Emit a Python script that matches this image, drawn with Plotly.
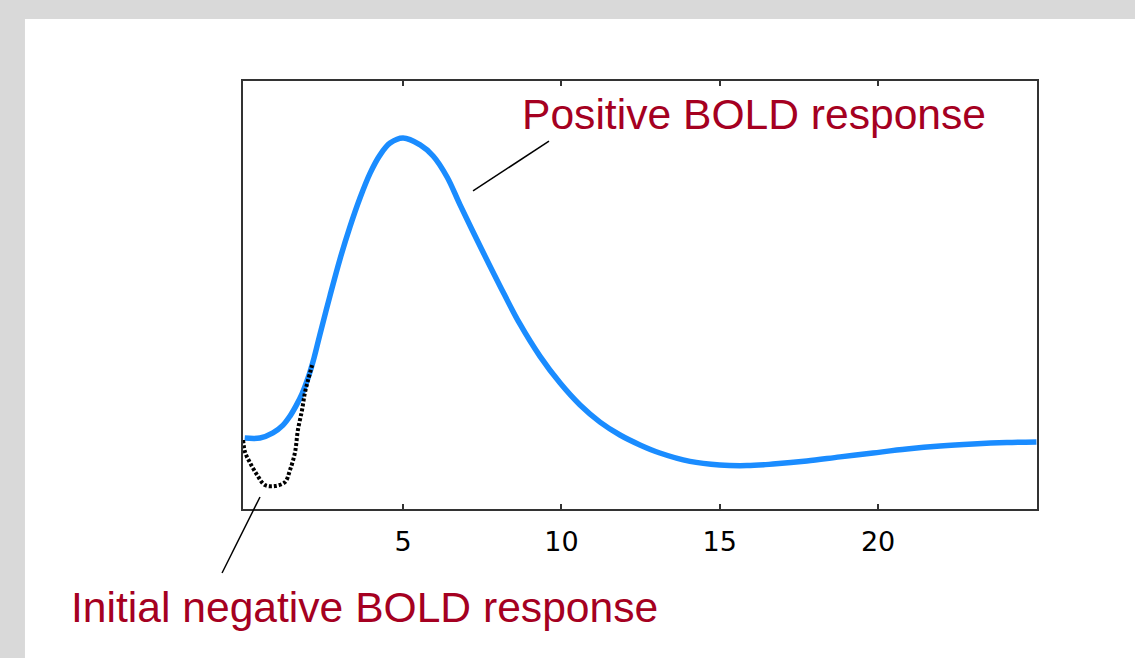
import plotly.graph_objects as go

# Haemodynamic response (arbitrary units), time in seconds
t_positive = [0, 0.48, 0.89, 1.21, 1.43, 1.62, 1.81, 2.0, 2.19, 2.37, 2.69, 3.01, 3.32,
              3.64, 3.96, 4.27, 4.59, 5.0, 5.54, 5.95, 6.39, 6.8, 7.43, 8.06, 8.69,
              9.32, 9.96, 10.59, 11.22, 11.85, 12.48, 13.11, 14.06, 15.0, 15.86, 16.68,
              17.75, 18.8, 19.84, 20.91, 21.96, 23.0, 24.07, 25.0]
y_positive = [0, 0, 0.017, 0.043, 0.073, 0.107, 0.147, 0.2, 0.267, 0.343, 0.473, 0.597,
              0.703, 0.8, 0.883, 0.943, 0.983, 1.0, 0.977, 0.94, 0.87, 0.777, 0.64,
              0.507, 0.38, 0.273, 0.183, 0.11, 0.053, 0.01, -0.023, -0.05, -0.078,
              -0.09, -0.092, -0.087, -0.077, -0.063, -0.05, -0.037, -0.027, -0.02,
              -0.015, -0.013]

t_dip = [-0.05, 0.01, 0.17, 0.39, 0.64, 0.96, 1.27, 1.43, 1.59, 1.68, 1.81, 1.9, 2.0, 2.13]
y_dip = [-0.007, -0.047, -0.083, -0.123, -0.157, -0.16, -0.147, -0.107, -0.047,
         0.027, 0.093, 0.15, 0.193, 0.243]

tick_vals = [5, 10, 15, 20]
tick_text = ["5", "10", "15", "20"]

label_positive = "Positive BOLD response"
label_initial = "Initial negative BOLD response"

RED = "#a50021"
BLUE = "#1a8cff"

fig = go.Figure()
fig.add_trace(go.Scatter(x=t_positive, y=y_positive, mode="lines",
                         line=dict(color=BLUE, width=5.5, shape="spline", smoothing=1.0),
                         hoverinfo="skip", showlegend=False))
fig.add_trace(go.Scatter(x=t_dip, y=y_dip, mode="lines",
                         line=dict(color="black", width=4, dash="3px,2px", shape="spline"),
                         hoverinfo="skip", showlegend=False))

# white slide panel behind the chart
fig.add_shape(type="rect", xref="paper", yref="paper",
              x0=-0.2746, x1=1.2, y0=-0.5, y1=1.1449,
              fillcolor="white", line=dict(width=0), layer="below")

# leader lines
fig.add_shape(type="line", xref="paper", yref="paper",
              x0=0.3854, y0=0.8598, x1=0.2897, y1=0.7430,
              line=dict(color="black", width=1.5))
fig.add_shape(type="line", xref="paper", yref="paper",
              x0=0.0214, y0=0.0280, x1=-0.0264, y1=-0.1495,
              line=dict(color="black", width=1.5))

fig.add_annotation(text=label_positive, xref="paper", yref="paper",
                   x=0.6436, y=0.924, xanchor="center", yanchor="middle",
                   showarrow=False,
                   font=dict(family="Liberation Sans, Arial", size=42.6, color=RED))
fig.add_annotation(text=label_initial, xref="paper", yref="paper",
                   x=0.153, y=-0.228, xanchor="center", yanchor="middle",
                   showarrow=False,
                   font=dict(family="Liberation Sans, Arial", size=42.6, color=RED))

fig.update_xaxes(range=[-0.054, 25.018], tickvals=tick_vals, ticktext=tick_text,
                 ticks="inside", ticklen=5, tickwidth=2, tickcolor="#333",
                 showline=True, linecolor="#333", linewidth=2, mirror="ticks",
                 showgrid=False, zeroline=False, ticklabelstandoff=8,
                 tickfont=dict(family="DejaVu Sans", size=27, color="black"))
fig.update_yaxes(range=[-0.2367, 1.19], showticklabels=False, ticks="",
                 showline=True, linecolor="#333", linewidth=2, mirror=True,
                 showgrid=False, zeroline=False)

fig.update_layout(width=1135, height=658,
                  margin=dict(l=243, r=98, t=81, b=149),
                  paper_bgcolor="#d9d9d9", plot_bgcolor="white")

fig.write_html("out.html",
               config={"displayModeBar": False},
               post_script="document.body.style.margin='0';"
                           "document.body.style.overflow='hidden';")
